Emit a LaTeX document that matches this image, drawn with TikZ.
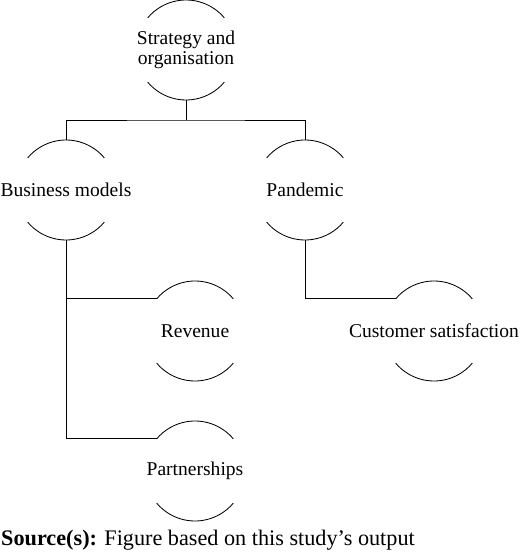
\documentclass[tikz,border=0pt]{standalone}
\usepackage{fontspec}
\setmainfont{Liberation Serif}
\usepackage{tikz}

\begin{document}
\begin{tikzpicture}[font=\fontsize{13.9}{14.4}\selectfont,line width=0.6pt]
\tikzstyle{topic}=[circle,minimum size=2.5cm,inner sep=0pt,outer sep=0pt]
\tikzstyle{word}=[align=center,inner sep=0pt]
\useasboundingbox (0,0) rectangle (13,13.8);
% topics
\node [topic] (strat) at (4.65,12.55) {};
\node [topic] (bus) at (1.65,9.05) {};
\node [topic] (pan) at (7.625,9.05) {};
\node [topic] (rev) at (4.875,5.525) {};
\node [topic] (cust) at (10.85,5.525) {};
\node [topic] (part) at (4.875,2.025) {};
\node [word] (strattext) at (strat) {Strategy and\\organisation};
\node [word] (bustext) at (bus) {Business models};
\node [word] (pantext) at (pan) {Pandemic};
\node [word] (revtext) at (rev) {Revenue};
\node [word] (custtext) at (cust) {Customer satisfaction};
\node [word] (parttext) at (part) {Partnerships};
% open circles
\foreach \n in {strat,bus,pan,rev,cust,part}{
\draw (\n.40) arc (40:140:1.25cm);
\draw (\n.220) arc (220:320:1.25cm);
}
% links
\coordinate (split) at (4.65,10.8);
\draw (strat.south) -- (split);
\draw (bus.north) |- (split) -| (pan.north);
\draw (bus.south) |- (rev.140);
\draw (bus.south) |- (part.140);
\draw (pan.south) |- (cust.140);
% caption
\node [anchor=base west,inner sep=0pt,font=\fontsize{15.8}{18}\selectfont] (source) at (0.02,0.17) {\textbf{Source(s):} Figure based on this study's output};
\end{tikzpicture}
\end{document}
